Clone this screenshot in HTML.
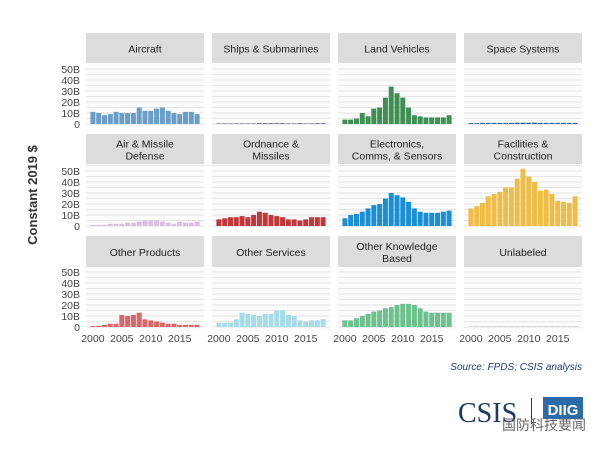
<!DOCTYPE html>
<html><head><meta charset="utf-8"><style>
html,body{margin:0;padding:0;background:#fff;}
svg{display:block;font-family:"Liberation Sans","Noto Sans CJK SC",sans-serif;}
</style></head><body>
<svg id="chart" width="612" height="450" viewBox="0 0 612 450" xmlns="http://www.w3.org/2000/svg">
<text transform="translate(37,195) rotate(-90)" text-anchor="middle" font-size="13" font-weight="bold" fill="#333">Constant 2019 $</text>
<g id="panels"></g>
<text x="582" y="370" text-anchor="end" font-size="10" font-style="italic" fill="#1f3f78">Source: FPDS; CSIS analysis</text>
<g>
<text x="458" y="422" font-family="Liberation Serif,serif" font-size="28" fill="#1f3a5f">CSIS</text>
<rect x="531" y="398" width="1" height="26" fill="#1f3a5f"/>
<rect x="543" y="397" width="40" height="22" fill="#2d6aa8"/>
<text x="563" y="415" text-anchor="middle" font-size="15" font-weight="bold" fill="#fff">DIIG</text>
</g>
<text x="502" y="430" font-size="14" fill="#666">国防科技要闻</text>
</svg>
<script>
const years=[2000,2001,2002,2003,2004,2005,2006,2007,2008,2009,2010,2011,2012,2013,2014,2015,2016,2017,2018];
const titles=[["Aircraft"],["Ships & Submarines"],["Land Vehicles"],["Space Systems"],["Air & Missile","Defense"],["Ordnance &","Missiles"],["Electronics,","Comms, & Sensors"],["Facilities &","Construction"],["Other Products"],["Other Services"],["Other Knowledge","Based"],["Unlabeled"]];
const colors=["#6a9ec8","#4a5a7a","#3f8f55","#2e5f9a","#d9bfe0","#c0363a","#1b8fd6","#f0bc48","#d9686a","#a6dbe8","#6cc18e","#999"];
const aircraft=[11,10,8,9,11,10,10,10,15,12,12,14,15,12,10,9,11,11,9];
const ships=[0.5,0.5,0.5,0.5,0.5,0.5,0.5,0.7,0.7,0.7,0.7,0.7,0.5,0.5,0.7,0.5,0.5,0.7,0.7];
const land=[4,4,5,10,7,14,15,24,34,28,24,15,8,7,6,6,6,6,8];
const space=[0.8,0.8,1,1,1,1,1,1,1.2,1.2,1.2,1.2,1,1,1,1,1,1,1];
const amd=[1,1,1,2,2,2,3,3,4,5,5,5,4,3,2,4,3,3,4];
const ordnance=[6,7,8,8,9,8,10,13,12,10,9,8,6,6,5,6,8,8,8];
const electronics=[7,10,11,13,16,19,20,25,30,28,26,22,16,13,12,12,12,13,14];
const facilities=[16,18,21,27,29,31,35,35,43,52,45,40,32,33,29,23,22,21,27];
const otherProducts=[1,1,2,3,3,11,10,11,13,7,6,5,4,3,3,2,2,2,2];
const otherServices=[4,4,4,7,13,12,11,10,12,12,15,15,11,10,6,5,6,6,7];
const knowledge=[6,6,8,10,12,14,15,17,18,20,21,21,20,17,14,13,13,13,13];
const unlabeled=[0.3,0.3,0.3,0.3,0.3,0.3,0.3,0.3,0.3,0.3,0.3,0.3,0.3,0.3,0.3,0.3,0.3,0.3,0.3];
const series=[aircraft,ships,land,space,amd,ordnance,electronics,facilities,otherProducts,otherServices,knowledge,unlabeled];
const yTicks=[0,10,20,30,40,50];
const yTickLabels=["0","10B","20B","30B","40B","50B"];
const xTicks=[2000,2005,2010,2015];

const NS="http://www.w3.org/2000/svg";
const g=document.getElementById("panels");
function el(t,a,p){const e=document.createElementNS(NS,t);for(const k in a)e.setAttribute(k,a[k]);(p||g).appendChild(e);return e;}
const colX=[86,212,338,464], pw=118;
const rows=[{s:33,top:64,base:124},{s:134,top:165,base:226},{s:236,top:268,base:327}];
for(let i=0;i<12;i++){
  const c=i%4,r=Math.floor(i/4),R=rows[r],x0=colX[c];
  const y=v=>R.base-v*1.1;
  const xs=yr=>x0+4+(yr-2000)*(pw-8)/19+ (pw-8)/38;
  const bw=(pw-8)/19;
  const panel=el("g",{});
  
  
  const strip=el("rect",{x:x0,y:R.s,width:pw,height:R.top-R.s-1,fill:"#dcdcdc"},panel);
  
  
  const lines=titles[i];
  const my=(R.s+R.top)/2;
  lines.forEach((t,k)=>{const tt=el("text",{x:x0+pw/2,y:my+4+(k-(lines.length-1)/2)*12,"text-anchor":"middle","font-size":"10.5",fill:"#222"},panel);tt.textContent=t;
    
    });
  el("rect",{x:x0,y:R.top,width:pw,height:R.base-R.top+2,fill:"#fbfbfb"},panel);
  for(let v=0;v<=55;v+=5){const yy=y(v);if(yy<R.top)break;el("line",{x1:x0,x2:x0+pw,y1:yy,y2:yy,stroke:"#e6e6e6","stroke-width":"1"},panel);}
  series[i].forEach((v,k)=>{const b=el("rect",{x:xs(years[k])-bw/2+0.4,y:y(v),width:bw-0.8,height:v*1.1,fill:colors[i]},panel);
    
    });
  if(c===0){yTicks.forEach((v,k)=>{const t=el("text",{x:x0-6,y:y(v)+4,"text-anchor":"end","font-size":"10.5",fill:"#444"},panel);t.textContent=yTickLabels[k];
    
    });}
  if(r===2){xTicks.forEach(v=>{const t=el("text",{x:xs(v),y:R.base+15,"text-anchor":"middle","font-size":"10.5",fill:"#444"},panel);t.textContent=v;
    
    });}
}
</script>
</body></html>
